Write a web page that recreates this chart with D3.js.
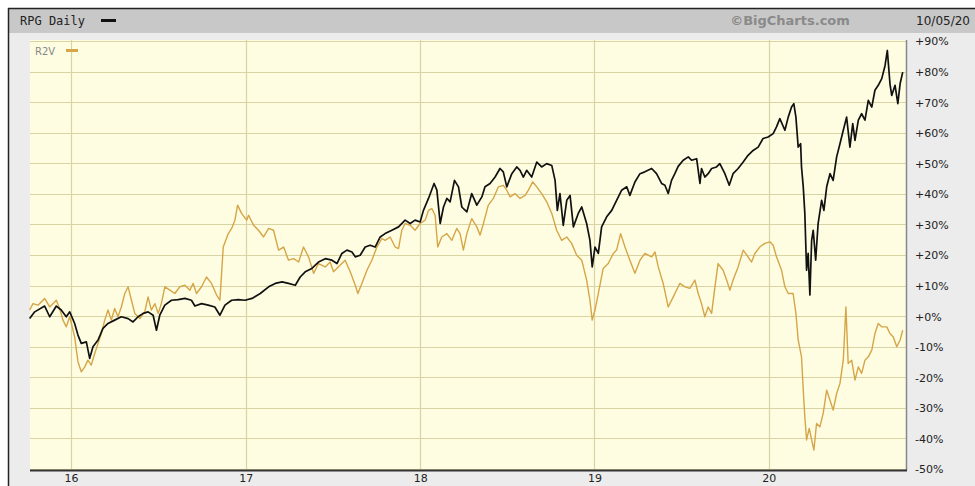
<!DOCTYPE html>
<html>
<head>
<meta charset="utf-8">
<script src="https://cdn.jsdelivr.net/npm/d3@7"></script>
<style>
  body { margin: 0; background: #fff; }
  svg { display: block; }
</style>
</head>
<body>
<div id="chart"></div>
<script>
// dates as decimal years, values as % change
const rpgYears = [2015.763, 2015.792, 2015.849, 2015.878, 2015.916, 2015.944, 2015.973, 2015.993, 2016.021, 2016.040,
  2016.059, 2016.088, 2016.107, 2016.126, 2016.155, 2016.183, 2016.212, 2016.250, 2016.288, 2016.327,
  2016.355, 2016.384, 2016.413, 2016.441, 2016.470, 2016.489, 2016.508, 2016.537, 2016.575, 2016.613,
  2016.652, 2016.689, 2016.709, 2016.747, 2016.785, 2016.823, 2016.852, 2016.881, 2016.919, 2016.957,
  2016.995, 2017.036, 2017.083, 2017.131, 2017.169, 2017.208, 2017.245, 2017.284, 2017.312, 2017.341,
  2017.379, 2017.417, 2017.456, 2017.494, 2017.523, 2017.551, 2017.580, 2017.609, 2017.628, 2017.656,
  2017.685, 2017.713, 2017.742, 2017.771, 2017.799, 2017.838, 2017.876, 2017.914, 2017.943, 2017.971,
  2018.000, 2018.019, 2018.048, 2018.080, 2018.096, 2018.115, 2018.134, 2018.153, 2018.172, 2018.197,
  2018.220, 2018.239, 2018.268, 2018.296, 2018.325, 2018.354, 2018.372, 2018.401, 2018.430, 2018.458,
  2018.477, 2018.497, 2018.526, 2018.554, 2018.573, 2018.592, 2018.611, 2018.640, 2018.669, 2018.697,
  2018.726, 2018.755, 2018.774, 2018.787, 2018.802, 2018.821, 2018.841, 2018.860, 2018.879, 2018.907,
  2018.927, 2018.955, 2018.974, 2018.987, 2019.003, 2019.022, 2019.041, 2019.070, 2019.099, 2019.127,
  2019.156, 2019.185, 2019.203, 2019.232, 2019.261, 2019.289, 2019.328, 2019.356, 2019.385, 2019.404,
  2019.423, 2019.442, 2019.461, 2019.480, 2019.509, 2019.538, 2019.557, 2019.586, 2019.605, 2019.614,
  2019.633, 2019.652, 2019.672, 2019.700, 2019.719, 2019.748, 2019.773, 2019.795, 2019.824, 2019.853,
  2019.881, 2019.910, 2019.939, 2019.967, 2019.996, 2020.025, 2020.044, 2020.063, 2020.092, 2020.111,
  2020.130, 2020.143, 2020.155, 2020.168, 2020.182, 2020.187, 2020.197, 2020.206, 2020.216, 2020.225,
  2020.235, 2020.245, 2020.254, 2020.268, 2020.282, 2020.302, 2020.315, 2020.331, 2020.350, 2020.368,
  2020.388, 2020.407, 2020.426, 2020.445, 2020.464, 2020.480, 2020.493, 2020.512, 2020.531, 2020.550,
  2020.569, 2020.589, 2020.607, 2020.626, 2020.646, 2020.665, 2020.678, 2020.693, 2020.703, 2020.722,
  2020.738, 2020.751, 2020.766]
const rpgValues = [-0.8, 1.4, 3.3, -0.2, 3.3, 2.0, -0.2, 1.4, -2.4, -6.2,
  -8.9, -8.4, -13.8, -10.0, -7.8, -4.0, -2.4, -1.3, -0.2, -0.8,
  -1.9, -0.2, 0.9, 1.4, 0.3, -4.6, 0.3, 3.6, 5.2, 5.4,
  5.8, 5.2, 3.3, 4.1, 3.6, 3.0, 0.3, 3.6, 5.2, 5.4,
  5.2, 5.8, 7.4, 9.6, 10.7, 11.2, 10.7, 10.1, 12.8, 14.5,
  15.6, 17.7, 18.8, 18.3, 17.2, 20.5, 21.6, 21.0, 19.4, 19.9,
  22.6, 23.2, 22.6, 25.9, 27.0, 28.1, 29.2, 31.4, 30.3, 31.4,
  30.8, 34.6, 38.5, 43.4, 41.2, 30.3, 35.7, 38.5, 37.4, 44.4,
  42.3, 35.7, 34.1, 40.1, 36.3, 39.0, 42.3, 43.4, 45.5, 48.3,
  47.2, 42.3, 46.6, 48.8, 47.7, 45.5, 47.7, 45.5, 50.4, 48.8,
  49.9, 49.3, 44.4, 34.6, 40.1, 29.7, 37.9, 39.5, 29.2, 33.6,
  35.7, 30.3, 24.8, 16.1, 22.6, 20.5, 29.2, 32.5, 34.6, 37.9,
  41.2, 42.3, 39.5, 43.9, 46.6, 47.2, 48.3, 46.6, 43.4, 42.8,
  40.1, 44.4, 46.6, 49.0, 51.0, 52.1, 51.0, 51.5, 43.4, 48.3,
  45.5, 46.6, 48.3, 48.8, 49.9, 46.6, 42.8, 46.6, 48.3, 50.4,
  52.6, 54.2, 55.3, 58.1, 58.6, 59.7, 61.9, 64.6, 60.8, 65.1,
  68.4, 69.5, 65.1, 55.3, 56.4, 48.8, 42.3, 33.6, 15.0, 20.5,
  6.9, 24.8, 28.1, 18.3, 30.3, 37.9, 34.6, 42.3, 46.6, 44.4,
  52.1, 56.4, 60.8, 65.1, 55.3, 63.0, 57.5, 64.1, 66.2, 64.1,
  70.6, 68.4, 73.9, 75.5, 77.7, 82.0, 86.9, 76.0, 72.2, 75.5,
  69.5, 76.0, 79.8]

const r2vYears = [2015.763, 2015.782, 2015.811, 2015.849, 2015.878, 2015.916, 2015.935, 2015.954, 2015.973, 2015.993,
  2016.021, 2016.040, 2016.059, 2016.079, 2016.097, 2016.116, 2016.136, 2016.155, 2016.174, 2016.193,
  2016.212, 2016.231, 2016.250, 2016.269, 2016.288, 2016.308, 2016.327, 2016.346, 2016.365, 2016.394,
  2016.422, 2016.441, 2016.460, 2016.480, 2016.499, 2016.517, 2016.537, 2016.566, 2016.594, 2016.623,
  2016.652, 2016.680, 2016.699, 2016.718, 2016.747, 2016.775, 2016.804, 2016.833, 2016.852, 2016.871,
  2016.900, 2016.919, 2016.938, 2016.953, 2016.976, 2017.005, 2017.016, 2017.045, 2017.073, 2017.102,
  2017.131, 2017.159, 2017.188, 2017.217, 2017.245, 2017.274, 2017.303, 2017.331, 2017.360, 2017.389,
  2017.417, 2017.456, 2017.484, 2017.503, 2017.542, 2017.570, 2017.599, 2017.628, 2017.643, 2017.666,
  2017.695, 2017.723, 2017.752, 2017.781, 2017.799, 2017.828, 2017.857, 2017.876, 2017.895, 2017.914,
  2017.943, 2017.971, 2018.000, 2018.029, 2018.048, 2018.067, 2018.086, 2018.101, 2018.124, 2018.153,
  2018.182, 2018.210, 2018.229, 2018.248, 2018.268, 2018.296, 2018.325, 2018.344, 2018.363, 2018.391,
  2018.420, 2018.449, 2018.477, 2018.497, 2018.516, 2018.544, 2018.573, 2018.602, 2018.621, 2018.646,
  2018.669, 2018.697, 2018.726, 2018.755, 2018.783, 2018.812, 2018.841, 2018.869, 2018.898, 2018.927,
  2018.955, 2018.974, 2018.987, 2019.003, 2019.022, 2019.050, 2019.079, 2019.108, 2019.127, 2019.150,
  2019.175, 2019.203, 2019.232, 2019.261, 2019.289, 2019.328, 2019.347, 2019.366, 2019.394, 2019.423,
  2019.452, 2019.480, 2019.490, 2019.519, 2019.547, 2019.576, 2019.595, 2019.614, 2019.633, 2019.652,
  2019.672, 2019.691, 2019.709, 2019.738, 2019.758, 2019.777, 2019.795, 2019.824, 2019.853, 2019.881,
  2019.901, 2019.920, 2019.948, 2019.977, 2020.006, 2020.025, 2020.044, 2020.073, 2020.092, 2020.111,
  2020.139, 2020.155, 2020.168, 2020.187, 2020.197, 2020.206, 2020.216, 2020.231, 2020.245, 2020.258,
  2020.273, 2020.292, 2020.311, 2020.331, 2020.350, 2020.368, 2020.388, 2020.407, 2020.426, 2020.441,
  2020.454, 2020.474, 2020.493, 2020.512, 2020.531, 2020.550, 2020.569, 2020.589, 2020.607, 2020.626,
  2020.646, 2020.675, 2020.693, 2020.712, 2020.732, 2020.751, 2020.766]
const r2vValues = [2.0, 4.1, 3.6, 5.8, 3.0, 5.2, 2.5, -1.3, -3.5, -0.2,
  -6.8, -14.9, -18.2, -16.6, -14.4, -16.0, -12.2, -8.9, -5.7, -1.3,
  2.0, -1.3, 2.5, -0.2, 3.0, 7.4, 9.6, 5.2, 0.9, -0.8,
  1.4, 6.3, 2.0, 4.1, 0.9, 4.1, 9.6, 8.5, 7.4, 9.6,
  10.1, 8.5, 10.7, 7.4, 9.6, 12.8, 10.7, 6.9, 5.2, 22.6,
  27.0, 28.7, 31.4, 36.3, 33.6, 31.4, 33.0, 29.7, 28.1, 25.9,
  28.7, 28.1, 21.6, 22.6, 18.3, 18.8, 17.7, 22.6, 19.4, 14.0,
  17.2, 16.1, 17.7, 14.5, 16.7, 18.3, 14.5, 10.1, 7.4, 10.7,
  15.0, 18.3, 22.6, 25.4, 24.8, 25.9, 22.6, 22.1, 28.1, 30.3,
  29.7, 28.1, 30.3, 31.4, 34.6, 35.2, 33.0, 22.6, 25.9, 27.0,
  24.8, 28.7, 27.0, 21.6, 27.0, 31.9, 29.2, 26.5, 30.3, 36.3,
  38.5, 42.3, 42.8, 41.2, 39.0, 40.1, 38.5, 39.5, 41.2, 43.9,
  42.3, 40.1, 37.4, 33.6, 28.1, 24.8, 25.9, 23.8, 19.9, 18.3,
  11.8, 5.2, -1.3, 2.0, 7.4, 15.6, 17.2, 20.5, 21.6, 27.0,
  22.6, 18.3, 14.0, 18.3, 20.5, 19.4, 21.0, 16.1, 10.7, 3.0,
  6.3, 9.6, 10.7, 9.6, 9.1, 11.8, 7.4, 4.1, -0.2, 3.0,
  0.9, 9.6, 17.2, 15.0, 11.8, 8.5, 11.8, 16.1, 21.6, 19.4,
  17.7, 20.5, 22.6, 23.8, 24.3, 23.2, 19.4, 15.0, 9.6, 7.4,
  7.4, 0.9, -7.8, -13.3, -24.2, -32.9, -40.5, -36.7, -40.5, -43.8,
  -35.1, -36.2, -31.8, -24.2, -27.5, -30.7, -25.3, -22.0, -14.4, 3.0,
  -15.5, -14.4, -20.9, -16.6, -18.7, -14.4, -13.3, -11.1, -5.7, -2.4,
  -3.5, -3.5, -5.7, -6.8, -10.0, -7.8, -4.6]

const yTicks = [90, 80, 70, 60, 50, 40, 30, 20, 10, 0, -10, -20, -30, -40, -50]
const xTickYears = [2016, 2017, 2018, 2019, 2020]
const xTickLabels = ['16', '17', '18', '19', '20']

function toDate(y) {
  let yr = Math.floor(y)
  let start = new Date(yr, 0, 1), end = new Date(yr + 1, 0, 1)
  return new Date(+start + (y - yr) * (end - start))
}

window.onload = function () {
  let width = 975, height = 486
  let left = 30, right = 906, top = 40, bottom = 470

  let svg = d3.select('#chart').append('svg')
    .attr('width', width)
    .attr('height', height)

  // frame and backgrounds
  svg.append('rect').attr('x', 8).attr('y', 8).attr('width', width - 8).attr('height', height - 8)
    .attr('fill', '#ececec')
  svg.append('rect').attr('x', 8).attr('y', 8).attr('width', width - 8).attr('height', 25)
    .attr('fill', '#c8c8c8')
  svg.append('line').attr('x1', 8).attr('x2', width).attr('y1', 8.5).attr('y2', 8.5)
    .attr('stroke', '#222').attr('stroke-width', 1.5)
  svg.append('line').attr('x1', 8.5).attr('x2', 8.5).attr('y1', 8).attr('y2', height)
    .attr('stroke', '#222').attr('stroke-width', 1.5)
  svg.append('rect').attr('x', left).attr('y', top).attr('width', right - left).attr('height', bottom - top)
    .attr('fill', '#fefde2')

  let x = d3.scaleTime()
    .domain([toDate(2015.765), toDate(2020.779)])
    .range([left, 905])
  let y = d3.scaleLinear()
    .domain([-50, 90])
    .range([469, 41])

  // grid
  svg.append('g').selectAll('line')
    .data(yTicks)
    .enter()
    .append('line')
    .attr('x1', left).attr('x2', right)
    .attr('y1', d => Math.round(y(d)) + 0.5).attr('y2', d => Math.round(y(d)) + 0.5)
    .attr('stroke', '#d8d4a4').attr('stroke-width', 1.2)
  svg.append('g').selectAll('line')
    .data(xTickYears)
    .enter()
    .append('line')
    .attr('x1', d => Math.round(x(toDate(d))) + 0.5).attr('x2', d => Math.round(x(toDate(d))) + 0.5)
    .attr('y1', top).attr('y2', bottom)
    .attr('stroke', '#d8d4a4').attr('stroke-width', 1.2)

  // plot edges
  svg.append('line').attr('x1', right + 0.5).attr('x2', right + 0.5).attr('y1', top).attr('y2', bottom)
    .attr('stroke', '#888').attr('stroke-width', 1.5)
  svg.append('line').attr('x1', left).attr('x2', right + 1).attr('y1', bottom + 0.5).attr('y2', bottom + 0.5)
    .attr('stroke', '#333').attr('stroke-width', 2)

  // lines
  let line = d3.line()
    .x(d => x(toDate(d[0])))
    .y(d => y(d[1]))
  svg.append('path')
    .datum(d3.zip(r2vYears, r2vValues))
    .attr('fill', 'none')
    .attr('stroke', '#d5a547')
    .attr('stroke-width', 1.4)
    .attr('stroke-linejoin', 'round')
    .attr('d', line)
  svg.append('path')
    .datum(d3.zip(rpgYears, rpgValues))
    .attr('fill', 'none')
    .attr('stroke', '#111')
    .attr('stroke-width', 1.7)
    .attr('stroke-linejoin', 'round')
    .attr('d', line)

  // axes labels
  let yAxis = d3.axisRight(y).tickValues(yTicks)
    .tickFormat(d => (d >= 0 ? '+' : '') + d + '%')
    .tickSize(0).tickPadding(0)
  let gy = svg.append('g').attr('transform', 'translate(915,0)').call(yAxis)
  gy.select('.domain').remove()
  gy.selectAll('text').attr('font-family', 'DejaVu Sans, Verdana, sans-serif').attr('font-size', 11)
    .attr('fill', '#222').attr('dy', '0.35em')

  let xAxis = d3.axisBottom(x).tickValues(xTickYears.map(toDate))
    .tickFormat((d, i) => xTickLabels[i])
    .tickSize(0).tickPadding(0)
  let gx = svg.append('g').attr('transform', 'translate(0,' + (bottom + 4) + ')').call(xAxis)
  gx.select('.domain').remove()
  gx.selectAll('text').attr('font-family', 'DejaVu Sans, Verdana, sans-serif').attr('font-size', 11)
    .attr('fill', '#222')

  // header texts
  svg.append('text').attr('x', 20).attr('y', 25).text('RPG Daily')
    .attr('font-family', 'DejaVu Sans Mono, monospace').attr('font-size', 12).attr('fill', '#222')
  svg.append('rect').attr('x', 101).attr('y', 19).attr('width', 15).attr('height', 3).attr('fill', '#111')
  svg.append('text').attr('x', 790).attr('y', 25).attr('text-anchor', 'middle').text('©BigCharts.com')
    .attr('font-family', 'DejaVu Sans, Verdana, sans-serif').attr('font-size', 13).attr('font-weight', 'bold')
    .attr('fill', '#8a8a8a')
  svg.append('text').attr('x', 970).attr('y', 25).attr('text-anchor', 'end').text('10/05/20')
    .attr('font-family', 'DejaVu Sans, Verdana, sans-serif').attr('font-size', 12).attr('fill', '#222')

  // R2V legend
  svg.append('text').attr('x', 35).attr('y', 55).text('R2V')
    .attr('font-family', 'DejaVu Sans, Verdana, sans-serif').attr('font-size', 10).attr('fill', '#888')
  svg.append('rect').attr('x', 66).attr('y', 49).attr('width', 12).attr('height', 3).attr('fill', '#d5a547')
}
</script>
</body>
</html>
